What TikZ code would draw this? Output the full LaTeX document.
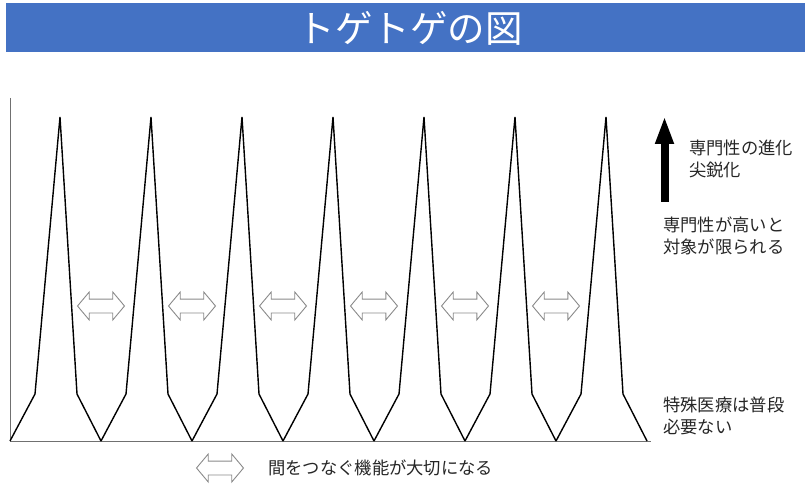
\documentclass[tikz,border=0pt]{standalone}
\usepackage{fontspec}
\newfontfamily\cjk{Noto Sans CJK JP}
\usetikzlibrary{shapes.arrows,arrows.meta}
\definecolor{barblue}{HTML}{4472C4}
\definecolor{arrowgray}{HTML}{8A8A8A}
\definecolor{axisgray}{HTML}{707070}
\tikzset{
  teeth/.style={black, line width=1.4pt, line join=miter},
  axisline/.style={axisgray, line width=1pt},
  linkarrow/.style={shape=double arrow, draw=arrowgray, fill=white, line width=0.9pt,
    minimum height=47pt, double arrow head extend=7pt, inner xsep=0pt, inner ysep=6.5pt,
    double arrow tip angle=100},
  note/.style={font=\cjk\fontsize{17.3}{22.5}\selectfont, text=black!85, align=left, anchor=west, inner sep=0pt},
}
\begin{document}
\begin{tikzpicture}[x=1pt,y=-1pt]
\useasboundingbox (0,0) rectangle (805,486);
% title bar
\fill[barblue] (6,3) rectangle (805,52);
\node[text=white, font=\cjk\fontsize{37.5}{40}\selectfont, inner sep=0pt] (title) at (410,28) {トゲトゲの図};
% axes
\draw[axisline] (10,98) -- (10,441) -- (651,441);
% teeth
\foreach \v in {10,101,192,283,374,465,556}{
  \draw[teeth] (\v,441) -- (\v+25,394) -- (\v+50,117) -- (\v+67,394) -- (\v+91,441);
}
% link arrows
\foreach \i/\v in {1/101,2/192,3/283,4/374,5/465,6/556}{
  \node[linkarrow] (link\i) at (\v,306) {};
}
% black arrow
\coordinate (upbot) at (664.5,202);
\coordinate (uptop) at (664.5,116);
\draw[line width=8pt, -{Triangle[length=28pt,width=17pt]}] (upbot) -- (uptop);
% notes
\node[note] (n1) at (689,159) {専門性の進化\\尖鋭化};
\node[note] (n2) at (663,236) {専門性が高いと\\対象が限られる};
\node[note] (n3) at (663,416) {特殊医療は普段\\必要ない};
% legend
\node[linkarrow] (legarrow) at (220,468) {};
\node[note] (legtext) at (268,468) {間をつなぐ機能が大切になる};
\end{tikzpicture}
\end{document}
